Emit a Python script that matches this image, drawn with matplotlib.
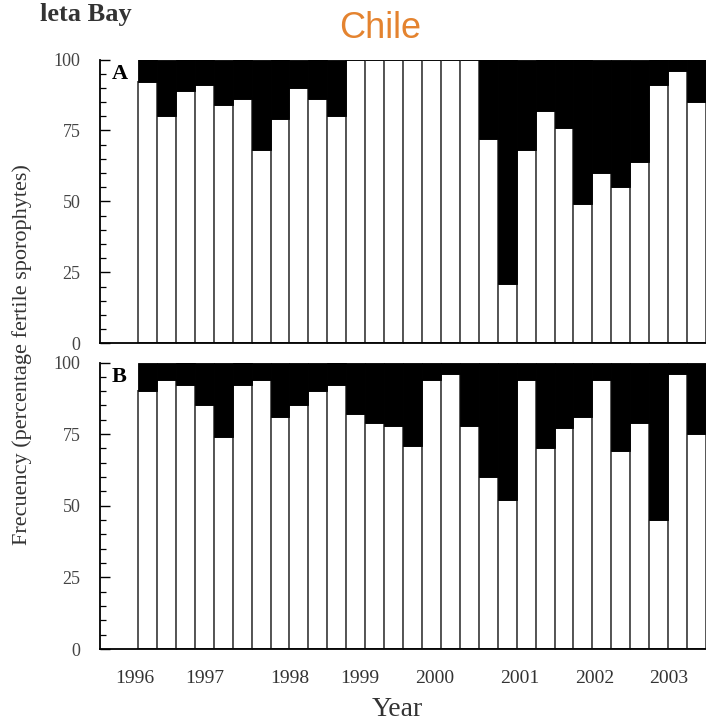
import matplotlib
matplotlib.use("Agg")
import matplotlib.pyplot as plt
import numpy as np

# Data: percentage of fertile sporophytes (white part), remainder to 100 is black
panel_a = [92, 80, 89, 91, 84, 86, 68, 79, 90, 86, 80,
           100, 100, 100, 100, 100, 100, 100,
           72, 21, 68, 82, 76, 49, 60, 55, 64, 91, 96, 85]
panel_b = [90, 94, 92, 85, 74, 92, 94, 81, 85, 90, 92, 82, 79, 78,
           71, 94, 96, 78, 60, 52, 94, 70, 77, 81, 94, 69, 79, 45, 96, 75]
year_labels = ["1996", "1997", "1998", "1999", "2000", "2001", "2002", "2003"]
year_pos = [-0.16, 3.54, 8.03, 11.73, 15.69, 20.18, 24.14, 28.05]
panel_letters = ["A", "B"]
y_ticks = [0, 25, 50, 75, 100]

serif = ["Liberation Serif", "DejaVu Serif"]

W, H = 706, 721
fig = plt.figure(figsize=(W / 100, H / 100), dpi=100)

def frac_box(top_px, bottom_px, left_px=100, right_px=706):
    return [left_px / W, 1 - bottom_px / H, (right_px - left_px) / W, (bottom_px - top_px) / H]

axA = fig.add_axes(frac_box(59.5, 343.3))
axB = fig.add_axes(frac_box(362.5, 649.0))

bar_px = 18.93
x_left = -(138 - 100) / bar_px

for ax, vals, letter in zip([axA, axB], [panel_a, panel_b], panel_letters):
    vals = np.array(vals, dtype=float)
    x = np.arange(len(vals)) + 0.5
    ax.bar(x, vals, width=1.0, color="white", edgecolor="#555555", linewidth=1.4, zorder=2)
    ax.bar(x, 100 - vals, bottom=vals, width=1.0, color="black", edgecolor="black",
           linewidth=0.6, zorder=3)
    ax.set_xlim(x_left, len(vals))
    ax.set_ylim(0, 100)
    for s in ["top", "right"]:
        ax.spines[s].set_visible(False)
    ax.spines["left"].set_linewidth(1.3)
    ax.spines["bottom"].set_linewidth(1.3)
    ax.set_yticks(y_ticks)
    ax.set_yticks(np.arange(0, 101, 5), minor=True)
    ax.tick_params(axis="y", which="major", direction="in", length=7, width=1.0,
                   pad=14, labelsize=13, labelcolor="#444444")
    ax.tick_params(axis="y", which="minor", direction="in", length=4, width=0.9)
    for lab in ax.get_yticklabels():
        lab.set_family(serif)
    ax.set_xticks(year_pos)
    ax.set_xticks([2, 6, 10, 14, 22, 26], minor=True)
    ax.tick_params(axis="x", which="minor", direction="in", length=4, width=1.0)
    ax.tick_params(axis="x", which="major", length=0)
    ax.text(x_left + 0.6, 95, letter, fontsize=16, fontweight="bold", family=serif,
            ha="left", va="center", zorder=5)

axA.set_xticklabels([])
axB.set_xticklabels(year_labels, fontsize=14, family=serif, color="#333333")
axB.tick_params(axis="x", which="major", pad=15)

fig.text(22 / W, 1 - 355 / H, "Frecuency (percentage fertile sporophytes)", rotation=90,
         ha="center", va="center", fontsize=16, family=serif, color="#333333")
fig.text(397 / W, 1 - 710 / H, "Year", ha="center", va="center", fontsize=20,
         family=serif, color="#333333")
fig.text(380 / W, 1 - 29 / H, "Chile", ha="center", va="center", fontsize=26,
         family=["Liberation Sans", "DejaVu Sans"], color="#E4832F")
fig.text(40 / W, 1 - 21 / H, "leta Bay", ha="left", va="baseline", fontsize=19,
         family=serif, fontweight="bold", color="#333333")

fig.savefig("out.png", dpi=100)
